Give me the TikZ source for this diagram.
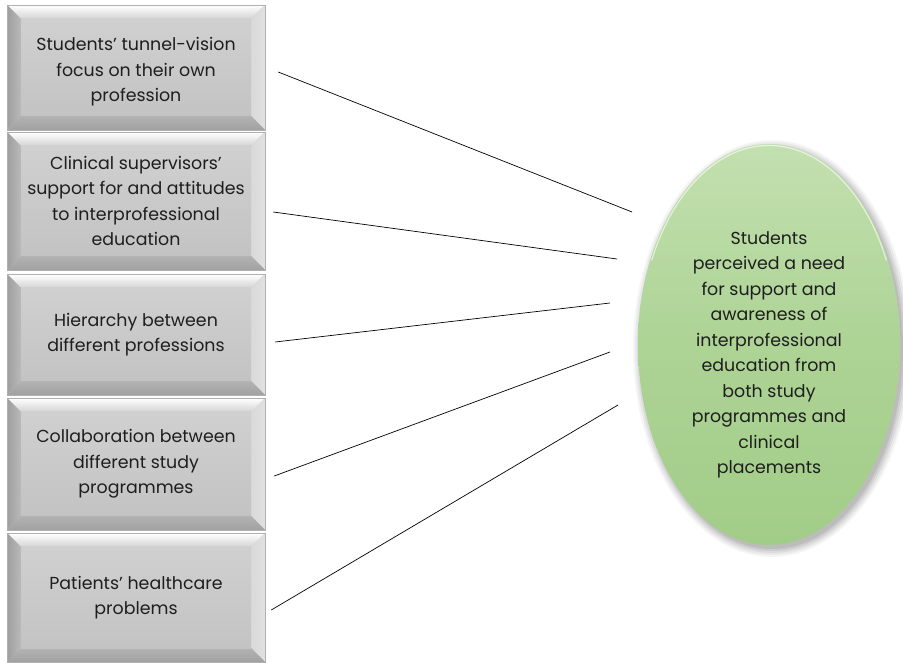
\documentclass[tikz,border=0pt]{standalone}
\usepackage{fontspec}
\setmainfont{Poppins}
\usetikzlibrary{shapes.geometric,calc}

\definecolor{bevface}{HTML}{C9C9C9}
\definecolor{bevfacetop}{HTML}{D0D0D0}
\definecolor{bevfacebot}{HTML}{C3C3C3}
\definecolor{bevtop}{HTML}{D4D4D4}
\definecolor{bevleft}{HTML}{BABABA}
\definecolor{bevright}{HTML}{D9D9D9}
\definecolor{bevbottom}{HTML}{B3B3B3}
\definecolor{bevedge}{HTML}{B0B0B0}
\definecolor{eggtop}{HTML}{C3E0B0}
\definecolor{eggmid}{HTML}{ADD395}
\definecolor{eggbot}{HTML}{A2CD88}
\definecolor{inktext}{HTML}{1E1E1E}

\newcommand{\labelfont}{\fontsize{17.4pt}{25.5pt}\selectfont}

\tikzset{
  bevelbox/.style={
    rectangle, minimum width=258pt, minimum height=#1, inner sep=0pt,
    fill=bevface, draw=bevedge, line width=0.5pt, align=center,
    font=\labelfont, text=inktext,
    path picture={
      \path (path picture bounding box.north west) coordinate (pnw)
            (path picture bounding box.north east) coordinate (pne)
            (path picture bounding box.south west) coordinate (psw)
            (path picture bounding box.south east) coordinate (pse);
      % sloped edges of the bevel
      \shade[top color=white, bottom color=bevtop]
        (pnw) -- (pne) -- ($(pne)+(-14,-14)$) -- ($(pnw)+(14,-14)$) -- cycle;
      \shade[left color=bevleft!85!black!100, right color=bevleft]
        (pnw) -- ($(pnw)+(14,-14)$) -- ($(psw)+(14,14)$) -- (psw) -- cycle;
      \shade[left color=bevright, right color=bevright!80!white]
        (pne) -- ($(pne)+(-14,-14)$) -- ($(pse)+(-14,14)$) -- (pse) -- cycle;
      \shade[top color=bevbottom, bottom color=bevbottom!90!black]
        (psw) -- ($(psw)+(14,14)$) -- ($(pse)+(-14,14)$) -- (pse) -- cycle;
      % flat face
      \shade[top color=bevfacetop, bottom color=bevfacebot]
        ($(pnw)+(14,-14)$) rectangle ($(pse)+(-14,14)$);
    }},
  eggnode/.style={
    ellipse, minimum width=262pt, minimum height=401pt, inner sep=0pt,
    top color=eggtop, bottom color=eggbot, middle color=eggmid},
  plaintext/.style={align=center, font=\labelfont, text=inktext},
  spoke/.style={draw=black, line width=0.7pt},
}

\begin{document}
\begin{tikzpicture}[x=1pt, y=1pt]
  \useasboundingbox (0,0) rectangle (903,662);

  % factor boxes, top to bottom
  \node[bevelbox=125pt] (b1) at (136,594.5) {};
  \node[plaintext] (b1text) at ([yshift=-4.5pt]b1.center)
    {Students’ tunnel-vision\\focus on their own\\profession};
  \node[bevelbox=138pt] (b2) at (136,461)
    {Clinical supervisors’\\support for and attitudes\\to interprofessional\\education};
  \node[bevelbox=121pt] (b3) at (136,327.5)
    {Hierarchy between\\different professions};
  \node[bevelbox=132pt] (b4) at (136,198)
    {Collaboration between\\different study\\programmes};
  \node[bevelbox=129pt] (b5) at (136,64.5)
    {Patients’ healthcare\\problems};

  % soft shadow under the outcome ellipse
  \foreach \g/\o in {8/0.04, 6/0.05, 4/0.06, 2/0.07, 0/0.08} {
    \fill[black, opacity=\o] (772,313.5) ellipse ({131+\g} and {200.5+\g});
  }

  % outcome ellipse and its text
  \node[eggnode] (goal) at (769,317.5) {};
  \node[plaintext] (goaltext) at ([yshift=-10.5pt]goal.center)
    {Students\\perceived a need\\for support and\\awareness of\\interprofessional\\education from\\both study\\programmes and\\clinical\\placements};
  % light rim along the upper edge
  \draw[white, opacity=0.6, line width=1.2pt]
    ([shift={(117.4,84.1)}]goal.center)
    arc[start angle=25, end angle=155, x radius=129.5, y radius=199];

  % loose ends of the connectors near the ellipse
  \coordinate (t1) at ([shift={(-137,132.5)}]goal.center);
  \coordinate (t2) at ([shift={(-152,85.5)}]goal.center);
  \coordinate (t3) at ([shift={(-159,41.5)}]goal.center);
  \coordinate (t4) at ([shift={(-159,-7.5)}]goal.center);
  \coordinate (t5) at ([shift={(-151,-60.5)}]goal.center);

  % connectors
  \draw[spoke] ([shift={(13,-4.5)}]b1.east) -- (t1);
  \draw[spoke] ([shift={(8,-11)}]b2.east) -- (t2);
  \draw[spoke] ([shift={(10,-7.5)}]b3.east) -- (t3);
  \draw[spoke] ([shift={(9,-12)}]b4.east) -- (t4);
  \draw[spoke] ([shift={(6,-12.5)}]b5.east) -- (t5);
\end{tikzpicture}
\end{document}
